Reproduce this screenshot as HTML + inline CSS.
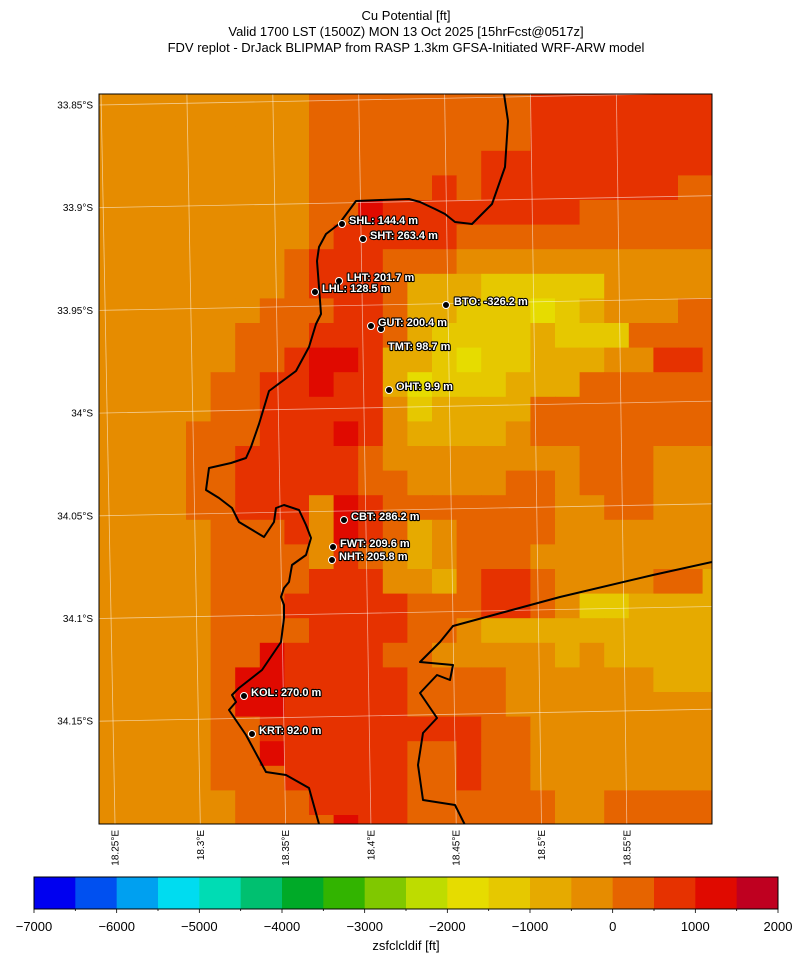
<!DOCTYPE html>
<html><head><meta charset="utf-8">
<style>
html,body{margin:0;padding:0;background:#fff;}
svg{display:block;font-family:"Liberation Sans","DejaVu Sans",sans-serif;}
.st{font-weight:bold;font-size:11px;fill:#fff;stroke:#000;stroke-width:2.2px;paint-order:stroke;stroke-linejoin:round;}
</style></head>
<body>
<svg id="chart" width="805" height="962" viewBox="0 0 805 962">
  <g font-size="13" text-anchor="middle" fill="#000">
    <text x="406" y="20">Cu Potential [ft]</text>
    <text x="406" y="36">Valid 1700 LST (1500Z) MON 13 Oct 2025 [15hrFcst@0517z]</text>
    <text x="406" y="52">FDV replot - DrJack BLIPMAP from RASP 1.3km GFSA-Initiated WRF-ARW model</text>
  </g>
  <defs><clipPath id="plotclip"><rect x="99" y="94" width="613" height="730"/></clipPath></defs>
  <g id="cells" clip-path="url(#plotclip)"></g>
  <g id="grid" clip-path="url(#plotclip)" stroke="#ffffff" stroke-opacity="0.55" stroke-width="0.8" fill="none"></g>
  <g clip-path="url(#plotclip)" fill="none" stroke="#000" stroke-width="2" stroke-linejoin="round">
    <polyline points="504,94 508,121 505,167 492,204 472,224 455,222 445,214 435,209 420,202 409,199 380,200 356,201 339,224 326,234 319,247 317,261 319,287 321,314 316,324 309,347 296,371 269,391 259,424 251,447 246,458 231,463 209,468 206,490 219,498 232,508 239,522 264,537 274,522 276,508 284,505 299,510 306,525 311,538 306,555 292,565 289,582 284,588 281,597 284,605 284,618 281,642 262,670 239,688 232,695 236,702 229,710 246,735 266,772 286,775 309,788 319,824"/>
    <polyline points="712,562 653,575 560,597 453,626 440,642 420,662 453,665 450,680 437,675 420,693 437,718 423,733 418,765 423,800 455,805 465,825"/>
  </g>
  <g><rect x="99" y="94" width="613" height="730" fill="none" stroke="#000" stroke-width="1"/></g>
  <g>
    <g><circle cx="342" cy="224" r="3.5" fill="#000" stroke="#fff" stroke-width="1"/><text class="st" x="349" y="224">SHL: 144.4 m</text></g>
    <g><circle cx="363" cy="239" r="3.5" fill="#000" stroke="#fff" stroke-width="1"/><text class="st" x="370" y="239">SHT: 263.4 m</text></g>
    <g><circle cx="339" cy="281" r="3.5" fill="#000" stroke="#fff" stroke-width="1"/><text class="st" x="347" y="281">LHT: 201.7 m</text></g>
    <g><circle cx="315" cy="292" r="3.5" fill="#000" stroke="#fff" stroke-width="1"/><text class="st" x="322" y="292">LHL: 128.5 m</text></g>
    <g><circle cx="446" cy="305" r="3.5" fill="#000" stroke="#fff" stroke-width="1"/><text class="st" x="454" y="305">BTO: -326.2 m</text></g>
    <g><circle cx="371" cy="326" r="3.5" fill="#000" stroke="#fff" stroke-width="1"/><circle cx="381" cy="329" r="3.5" fill="#000" stroke="#fff" stroke-width="1"/><text class="st" x="378" y="326">GUT: 200.4 m</text></g>
    <g><text class="st" x="388" y="350">TMT: 98.7 m</text></g>
    <g><circle cx="389" cy="390" r="3.5" fill="#000" stroke="#fff" stroke-width="1"/><text class="st" x="396" y="390">OHT: 9.9 m</text></g>
    <g><circle cx="344" cy="520" r="3.5" fill="#000" stroke="#fff" stroke-width="1"/><text class="st" x="351" y="520">CBT: 286.2 m</text></g>
    <g><circle cx="333" cy="547" r="3.5" fill="#000" stroke="#fff" stroke-width="1"/><text class="st" x="340" y="547">FWT: 209.6 m</text></g>
    <g><circle cx="332" cy="560" r="3.5" fill="#000" stroke="#fff" stroke-width="1"/><text class="st" x="339" y="560">NHT: 205.8 m</text></g>
    <g><circle cx="244" cy="696" r="3.5" fill="#000" stroke="#fff" stroke-width="1"/><text class="st" x="251" y="696">KOL: 270.0 m</text></g>
    <g><circle cx="252" cy="734" r="3.5" fill="#000" stroke="#fff" stroke-width="1"/><text class="st" x="259" y="734">KRT: 92.0 m</text></g>
  </g>
  <g id="latlabels" font-size="10" text-anchor="end"></g>
  <g id="lonlabels" font-size="10" text-anchor="end"></g>
  <g id="colorbar"></g>
  <text x="406" y="950" font-size="13" text-anchor="middle">zsfclcldif [ft]</text>
</svg>
<script>
// ---- data ----
const gridRows = [
"aaaaaaaaabbbbbbbbbcccccccc",
"aaaaaaaaabbbbbbbbbcccccccc",
"aaaaaaaaabbbbbbbbbcccccccc",
"aaaaaaaaabbbbbbbcccccccccc",
"aaaaaaaaabbbbbcbccccccccbb",
"aaaaaaaaabbdccccccccbbbbbb",
"aaaaaaaaabcccccbbbbbbbbbbb",
"aaaaaaaabcccbbbaaaaaaaaaaa",
"aaaaaaaabcccbyyygggggaaaaa",
"aaaaaaabbbccbyyggghgyaaabb",
"aaaaaabbbcccbyggggygggbbbb",
"aaaaaabbcddcyyghggyyyaaccb",
"aaaaabbccdccyhgggyyybbbbbb",
"aaaaabbcccccagyyyybbbbbbbb",
"aaaabbbcccdcayyyyabbbbbbbb",
"aaaabbcccccbaaaaaaaabbbaaa",
"aaaabbcccccbbaaaabbabbbaaa",
"aaaabbcccadcbbbbbbbaabbaaa",
"aaaaabbbcadcbyabbbbaaaaaaa",
"aaaaabbbbacbayabbbaaaaaaaa",
"aaaaabbbbcccaaybccbaaaabby",
"aaaaabbbcccccbbbccbaggyyyy",
"aaaaabbbbccccbbayyyyyyyyyy",
"aaaaabbdccccbbaaaaayayyyyy",
"aaaaabddcccccbbbbaaaaaayyy",
"aaaaabddcccccbbbbaaaaaaaaa",
"aaaaabbcccccccccbbaaaaaaaa",
"aaaaabbdcccccbbcbbaaaaaaaa",
"aaaaabbbcccccbbcbbaaaaaaaa",
"aaaaaabbbccccbbbbbbaabbbbb",
"aaaaaabbbbdccbbbbbbaabbbbb"
];
const codeValues = {h:-1750, g:-1250, y:-750, a:-250, b:250, c:750, d:1250};
const levels = [-7000,-6500,-6000,-5500,-5000,-4500,-4000,-3500,-3000,-2500,-2000,-1500,-1000,-500,0,500,1000,1500,2000];
const levelColors = ["#0000f0","#0050f0","#00a0f0","#00dcf0","#00dcb4","#00c070","#00aa28","#32b400","#80c800","#bedc00","#e6dc00","#e6c800","#e6aa00","#e68c00","#e66400","#e63200","#e00a00","#bf0020"];
const cbTicks = [-7000,-6000,-5000,-4000,-3000,-2000,-1000,0,1000,2000];
const latTicks = ["33.85°S","33.9°S","33.95°S","34°S","34.05°S","34.1°S","34.15°S"];
const latValues = [33.85,33.9,33.95,34.0,34.05,34.1,34.15];
const lonTicks = ["18.25°E","18.3°E","18.35°E","18.4°E","18.45°E","18.5°E","18.55°E"];
const lonValues = [18.25,18.3,18.35,18.4,18.45,18.5,18.55];

// ---- scales ----
const NS = "http://www.w3.org/2000/svg";
const cellW = 24.6, cellH = 24.6, col0 = 87.6, row0 = 77;
function xCell(c){ return col0 + c*cellW; }
function yCell(r){ return row0 + r*cellH; }
function latY(lat){ return 105 + (lat-33.85)/0.05*102.7; }
function lonX(lon){ return 115 + (lon-18.25)/0.05*85.3; }
const cbX0 = 34, cbX1 = 778, cbY = 877, cbH = 32;
function cbScale(v){ return cbX0 + (v-levels[0])/(levels[levels.length-1]-levels[0])*(cbX1-cbX0); }
function colorFor(v){
  for(let i=0;i<levelColors.length;i++){ if(v>=levels[i] && v<levels[i+1]) return levelColors[i]; }
  return levelColors[levelColors.length-1];
}
function mk(tag, attrs){ const e=document.createElementNS(NS,tag); for(const k in attrs) e.setAttribute(k,attrs[k]); return e; }

// ---- cells ----
const cells = document.getElementById('cells');
gridRows.forEach((row,r)=>{
  for(let c=0;c<row.length;c++){
    const v = codeValues[row[c]];
    const rect = mk('rect',{x:xCell(c).toFixed(2),y:yCell(r).toFixed(2),width:(cellW+0.6).toFixed(2),height:(cellH+0.6).toFixed(2),fill:colorFor(v)});
    
    
    cells.appendChild(rect);
  }
});

// ---- graticule & labels ----
const grid = document.getElementById('grid');
const latG = document.getElementById('latlabels');
latValues.forEach((lat,i)=>{
  const y = latY(lat);
  const ln = mk('line',{x1:99,y1:y,x2:712,y2:y-12});
  
  
  grid.appendChild(ln);
  const t = mk('text',{x:93,y:(y+3.5).toFixed(1)});
  
  
  t.textContent = latTicks[i];
  latG.appendChild(t);
});
const lonG = document.getElementById('lonlabels');
lonValues.forEach((lon,i)=>{
  const x = lonX(lon);
  const ln = mk('line',{x1:x-14+(i*0.6),y1:94,x2:x,y2:824});
  
  
  grid.appendChild(ln);
  const t = mk('text',{x:0,y:0,transform:`translate(${(x+3.5).toFixed(1)},830) rotate(-90)`});
  
  
  t.textContent = lonTicks[i];
  lonG.appendChild(t);
});

// ---- colorbar ----
const cb = document.getElementById('colorbar');
for(let i=0;i<levelColors.length;i++){
  const x0=cbScale(levels[i]), x1=cbScale(levels[i+1]);
  const r = mk('rect',{x:x0.toFixed(2),y:cbY,width:(x1-x0+0.5).toFixed(2),height:cbH,fill:levelColors[i]});
  
  
  cb.appendChild(r);
}
const border = mk('rect',{x:cbX0,y:cbY,width:cbX1-cbX0,height:cbH,fill:'none',stroke:'#000','stroke-width':1});


cb.appendChild(border);
levels.forEach(v=>{
  const x=cbScale(v);
  const major = cbTicks.indexOf(v)>=0;
  const tk = mk('line',{x1:x,y1:cbY+cbH,x2:x,y2:cbY+cbH+(major?4:2),stroke:'#000','stroke-width':0.8});
  
  
  cb.appendChild(tk);
});
cbTicks.forEach(v=>{
  const t = mk('text',{x:cbScale(v).toFixed(1),y:931,'font-size':13,'text-anchor':'middle'});
  
  
  t.textContent = v<0 ? '\u2212'+Math.abs(v) : String(v);
  cb.appendChild(t);
});
</script>
</body></html>
